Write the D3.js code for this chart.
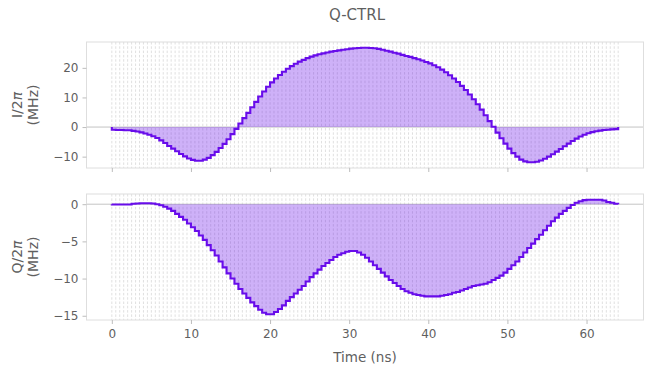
<!DOCTYPE html>
<html>
<head>
<meta charset="utf-8">
<script src="https://cdn.jsdelivr.net/npm/d3@7"></script>
<style>
  body { margin: 0; background: #fff; }
  svg { font-family: "DejaVu Sans", sans-serif; }
</style>
</head>
<body>
<div id="chart"></div>
<script>
// pulse: 128 piecewise-constant segments of 0.5 ns, values in MHz (already divided by 2π)
const segmentDuration = 0.5;

const iValues = [
  -0.9, -1.0, -1.0, -1.1, -1.1, -1.3, -1.5, -1.8, -2.2, -2.6,
  -3.1, -3.7, -4.5, -5.4, -6.4, -7.3, -8.2, -9.1, -9.9, -10.6,
  -11.1, -11.4, -11.4, -11.0, -10.4, -9.5, -8.4, -7.1, -5.7, -4.1,
  -2.4, -0.6, 1.2, 3.0, 4.8, 6.7, 8.5, 10.3, 12.0, 13.6,
  15.1, 16.4, 17.6, 18.7, 19.7, 20.6, 21.4, 22.1, 22.7, 23.3,
  23.8, 24.2, 24.6, 24.9, 25.2, 25.5, 25.7, 25.9, 26.1, 26.3,
  26.5, 26.6, 26.7, 26.8, 26.8, 26.7, 26.6, 26.4, 26.1, 25.8,
  25.5, 25.1, 24.8, 24.4, 24.0, 23.7, 23.3, 22.9, 22.5, 22.0,
  21.5, 20.9, 20.2, 19.4, 18.5, 17.5, 16.4, 15.2, 13.9, 12.5,
  11.0, 9.4, 7.7, 5.9, 4.0, 2.0, 0.1, -1.9, -3.8, -5.6,
  -7.3, -8.8, -10.0, -11.0, -11.6, -11.9, -11.9, -11.7, -11.3, -10.7,
  -10.0, -9.2, -8.3, -7.4, -6.5, -5.6, -4.7, -3.9, -3.2, -2.6,
  -2.1, -1.7, -1.4, -1.2, -1.0, -0.9, -0.8, -0.7
];

const qValues = [
  -0.05, -0.05, -0.05, -0.05, -0.05, 0.05, 0.1, 0.12, 0.12, 0.12,
  0.1, 0.0, -0.15, -0.35, -0.6, -0.9, -1.3, -1.7, -2.1, -2.6,
  -3.1, -3.6, -4.2, -4.8, -5.5, -6.2, -6.9, -7.7, -8.5, -9.3,
  -10.0, -10.7, -11.4, -12.0, -12.6, -13.2, -13.7, -14.2, -14.6, -14.8,
  -14.8, -14.5, -14.1, -13.6, -13.0, -12.5, -12.0, -11.5, -11.0, -10.4,
  -9.8, -9.3, -8.8, -8.3, -7.9, -7.5, -7.1, -6.8, -6.6, -6.4,
  -6.3, -6.3, -6.5, -6.8, -7.2, -7.7, -8.2, -8.7, -9.2, -9.7,
  -10.2, -10.6, -11.0, -11.4, -11.7, -11.9, -12.1, -12.2, -12.3, -12.4,
  -12.4, -12.4, -12.4, -12.3, -12.2, -12.1, -11.9, -11.8, -11.6, -11.4,
  -11.2, -11.0, -10.9, -10.8, -10.7, -10.5, -10.2, -9.9, -9.6, -9.2,
  -8.7, -8.2, -7.7, -7.1, -6.5, -5.9, -5.3, -4.7, -4.1, -3.5,
  -2.9, -2.3, -1.8, -1.3, -0.9, -0.5, -0.1, 0.2, 0.4, 0.55,
  0.6, 0.6, 0.6, 0.6, 0.5, 0.3, 0.2, 0.05
];

const xTicks = [0, 10, 20, 30, 40, 50, 60];
const iTicks = [-10, 0, 10, 20];
const qTicks = [-15, -10, -5, 0];

const width = 650;
const height = 376;
const purple = "#680CEA";
const textColor = "#5f5f5f";

const svg = d3.select("#chart").append("svg")
  .attr("width", width)
  .attr("height", height);

const duration = iValues.length * segmentDuration;
const boundaries = d3.range(iValues.length + 1).map(k => k * segmentDuration);

// matplotlib-like 5% margins
const xPad = duration * 0.05;
const x = d3.scaleLinear().domain([-xPad, duration + xPad]).range([86.5, 643.5]);

svg.append("text")
  .attr("x", 357).attr("y", 20)
  .attr("text-anchor", "middle")
  .attr("fill", textColor)
  .style("font-size", "15px")
  .text("Q-CTRL");

svg.append("text")
  .attr("x", 365).attr("y", 362)
  .attr("text-anchor", "middle")
  .attr("fill", textColor)
  .style("font-size", "13.5px")
  .text("Time (ns)");

drawPanel(iValues, iTicks, [168, 42], "I/2", false);
drawPanel(qValues, qTicks, [320, 194], "Q/2", true);

function drawPanel(values, ticks, range, name, showXLabels) {
  const lo = Math.min(0, d3.min(values));
  const hi = Math.max(0, d3.max(values));
  const pad = (hi - lo) * 0.05;
  const y = d3.scaleLinear().domain([lo - pad, hi + pad]).range(range);

  const g = svg.append("g");
  const [x0, x1] = x.range();
  const [yb, yt] = range;

  // segment boundaries
  g.append("g").selectAll("line")
    .data(boundaries)
    .join("line")
    .attr("x1", d => x(d)).attr("x2", d => x(d))
    .attr("y1", yt).attr("y2", yb)
    .attr("stroke", "#d2d2d2")
    .attr("stroke-width", 0.7)
    .attr("stroke-dasharray", "2.5,1.8");

  // zero line
  g.append("line")
    .attr("x1", x0).attr("x2", x1)
    .attr("y1", y(0)).attr("y2", y(0))
    .attr("stroke", "#c4c4c4")
    .attr("stroke-width", 1);

  const pts = [[0, 0]];
  values.forEach((v, k) => pts.push([boundaries[k], v]));
  pts.push([duration, 0]);

  const area = d3.area()
    .curve(d3.curveStepAfter)
    .x(d => x(d[0]))
    .y0(y(0))
    .y1(d => y(d[1]));

  const line = d3.line()
    .curve(d3.curveStepAfter)
    .x(d => x(d[0]))
    .y(d => y(d[1]));

  g.append("path")
    .attr("d", area(pts))
    .attr("fill", purple)
    .attr("fill-opacity", 0.32);

  g.append("path")
    .attr("d", line(pts))
    .attr("fill", "none")
    .attr("stroke", purple)
    .attr("stroke-width", 2.1)
    .attr("stroke-linejoin", "miter");

  // frame
  g.append("rect")
    .attr("x", x0).attr("y", yt)
    .attr("width", x1 - x0).attr("height", yb - yt)
    .attr("fill", "none")
    .attr("stroke", "#dedede")
    .attr("stroke-width", 1);

  const xAxis = g.append("g")
    .attr("transform", `translate(0,${yb})`)
    .call(d3.axisBottom(x).tickValues(xTicks).tickSize(4).tickPadding(5)
      .tickFormat(showXLabels ? d3.format("d") : ""));
  const yAxis = g.append("g")
    .attr("transform", `translate(${x0},0)`)
    .call(d3.axisLeft(y).tickValues(ticks).tickSize(4).tickPadding(4));

  [xAxis, yAxis].forEach(a => {
    a.select(".domain").remove();
    a.selectAll(".tick line").attr("stroke", "#bdbdbd");
    a.selectAll(".tick text")
      .attr("fill", textColor)
      .style("font-size", "12px")
      .style("font-family", "DejaVu Sans, sans-serif");
  });

  const cy = (yb + yt) / 2;
  const lab = g.append("text")
    .attr("transform", `translate(26,${cy}) rotate(-90)`)
    .attr("text-anchor", "middle")
    .attr("fill", textColor)
    .style("font-size", "14px");
  lab.append("tspan").attr("x", 0).attr("dy", "-0.3em").text(name);
  lab.append("tspan").style("font-style", "italic").text("π");
  lab.append("tspan").attr("x", 0).attr("dy", "1.15em").text("(MHz)");
}
</script>
</body>
</html>
